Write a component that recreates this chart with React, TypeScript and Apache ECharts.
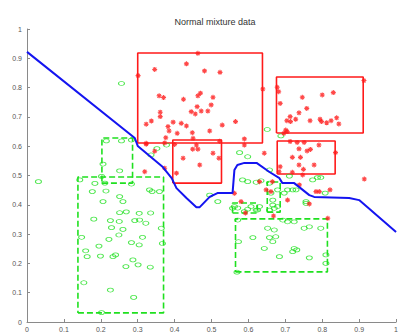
import React, { useEffect, useRef } from "react";
import * as echarts from "echarts";

const title = "Normal mixture data";
const xTicks = [0, 1, 0.1];
const yTicks = [0, 1, 0.1];

// Decision boundary (blue)
const boundary: [number, number][] = [
  [0, 0.922], [0.292, 0.628], [0.3, 0.601], [0.368, 0.529], [0.392, 0.491],
  [0.405, 0.457], [0.432, 0.423], [0.459, 0.392], [0.468, 0.392], [0.495, 0.427],
  [0.516, 0.44], [0.557, 0.44], [0.562, 0.519], [0.57, 0.536], [0.589, 0.543],
  [0.622, 0.543], [0.657, 0.512], [0.684, 0.491], [0.692, 0.474], [0.724, 0.474],
  [0.765, 0.433], [0.778, 0.427], [0.873, 0.423], [0.9, 0.416], [1.0, 0.307],
];

// Red class points (*)
const redPoints: [number, number][] = [
  [0.463, 0.917], [0.301, 0.841], [0.346, 0.862], [0.432, 0.881], [0.481, 0.857],
  [0.523, 0.852], [0.639, 0.795], [0.358, 0.772], [0.37, 0.766], [0.424, 0.76],
  [0.463, 0.772], [0.47, 0.781], [0.504, 0.767], [0.499, 0.741], [0.461, 0.735],
  [0.445, 0.718], [0.456, 0.71], [0.472, 0.72], [0.49, 0.72], [0.361, 0.716],
  [0.361, 0.701], [0.337, 0.686], [0.323, 0.675], [0.396, 0.682], [0.418, 0.678],
  [0.432, 0.669], [0.382, 0.667], [0.385, 0.652], [0.407, 0.644], [0.448, 0.646],
  [0.495, 0.652], [0.529, 0.672], [0.565, 0.684], [0.589, 0.625], [0.376, 0.629],
  [0.45, 0.627], [0.323, 0.61], [0.4, 0.606], [0.459, 0.604], [0.589, 0.604],
  [0.423, 0.559], [0.468, 0.536], [0.504, 0.576], [0.52, 0.559], [0.405, 0.508],
  [0.449, 0.59], [0.463, 0.59], [0.522, 0.617], [0.373, 0.525], [0.562, 0.439],
  [0.58, 0.411], [0.643, 0.576], [0.648, 0.451], [0.661, 0.445], [0.63, 0.479],
  [0.668, 0.362], [0.319, 0.513], [0.346, 0.583], [0.323, 0.607], [0.373, 0.611],
  [0.592, 0.372], [0.665, 0.479], [0.706, 0.416], [0.738, 0.468], [0.765, 0.403],
  [0.783, 0.445], [0.792, 0.445], [0.821, 0.451], [0.914, 0.488], [0.815, 0.354],
  [0.747, 0.502],
  [0.678, 0.801], [0.682, 0.786], [0.686, 0.746], [0.913, 0.824], [0.8, 0.775],
  [0.83, 0.783], [0.746, 0.767], [0.758, 0.729], [0.737, 0.714], [0.728, 0.692],
  [0.713, 0.701], [0.704, 0.687], [0.714, 0.684], [0.767, 0.687], [0.794, 0.692],
  [0.798, 0.684], [0.812, 0.68], [0.824, 0.687], [0.839, 0.697], [0.845, 0.676],
  [0.701, 0.655], [0.705, 0.65], [0.696, 0.644],
  [0.713, 0.616], [0.732, 0.613], [0.751, 0.613], [0.737, 0.591], [0.759, 0.584],
  [0.768, 0.589], [0.791, 0.604], [0.719, 0.562], [0.741, 0.562], [0.836, 0.578],
  [0.737, 0.536], [0.778, 0.536], [0.686, 0.53], [0.749, 0.521], [0.683, 0.513],
  [0.719, 0.511],
];

// Green class points (o)
const greenPoints: [number, number][] = [
  [0.256, 0.814], [0.031, 0.479],
  [0.215, 0.618], [0.256, 0.618], [0.283, 0.621], [0.206, 0.539], [0.251, 0.516],
  [0.202, 0.497], [0.283, 0.471], [0.211, 0.474],
  [0.143, 0.485], [0.184, 0.473], [0.214, 0.447], [0.177, 0.445], [0.251, 0.428],
  [0.26, 0.411], [0.206, 0.411], [0.332, 0.451], [0.339, 0.445], [0.359, 0.445],
  [0.251, 0.373], [0.269, 0.376], [0.304, 0.371], [0.181, 0.351], [0.226, 0.346],
  [0.25, 0.343], [0.292, 0.346], [0.305, 0.348], [0.322, 0.337], [0.229, 0.322],
  [0.26, 0.316], [0.364, 0.32], [0.148, 0.289], [0.249, 0.297], [0.222, 0.282],
  [0.313, 0.289], [0.283, 0.271], [0.367, 0.268], [0.304, 0.263], [0.195, 0.259],
  [0.159, 0.243], [0.163, 0.223], [0.199, 0.225], [0.233, 0.223], [0.24, 0.229],
  [0.287, 0.212], [0.301, 0.195], [0.268, 0.189], [0.334, 0.187], [0.154, 0.134],
  [0.226, 0.109], [0.289, 0.084], [0.202, 0.032], [0.335, 0.372],
  [0.336, 0.57], [0.378, 0.604], [0.352, 0.592],
  [0.576, 0.578], [0.598, 0.564], [0.495, 0.433], [0.517, 0.411], [0.584, 0.485],
  [0.598, 0.479], [0.621, 0.477], [0.634, 0.482], [0.657, 0.474], [0.661, 0.44],
  [0.666, 0.416], [0.562, 0.394], [0.571, 0.389], [0.589, 0.377], [0.607, 0.394],
  [0.621, 0.382], [0.63, 0.394], [0.657, 0.382], [0.666, 0.399], [0.679, 0.451],
  [0.697, 0.44], [0.706, 0.451], [0.72, 0.451], [0.729, 0.451], [0.756, 0.411],
  [0.774, 0.485], [0.787, 0.493], [0.796, 0.493], [0.808, 0.44], [0.651, 0.657],
  [0.688, 0.635], [0.657, 0.519], [0.711, 0.498],
  [0.571, 0.348], [0.693, 0.348], [0.706, 0.342], [0.724, 0.342], [0.652, 0.32],
  [0.67, 0.314], [0.751, 0.32], [0.765, 0.325], [0.796, 0.32], [0.612, 0.288],
  [0.657, 0.288], [0.674, 0.291], [0.573, 0.274], [0.666, 0.274], [0.643, 0.251],
  [0.724, 0.251], [0.731, 0.246], [0.72, 0.24], [0.684, 0.223], [0.765, 0.219],
  [0.81, 0.229], [0.81, 0.2], [0.569, 0.17],
  [0.557, 0.388], [0.598, 0.385], [0.625, 0.382], [0.67, 0.388], [0.679, 0.394],
  [0.756, 0.405],
];

// Rectangles: [xMin, xMax, yMin, yMax]
const redBoxes: [number, number, number, number][] = [
  [0.3, 0.638, 0.611, 0.918],
  [0.395, 0.527, 0.474, 0.621],
  [0.676, 0.911, 0.645, 0.836],
  [0.678, 0.835, 0.505, 0.618],
];
const greenBoxes: [number, number, number, number][] = [
  [0.138, 0.37, 0.031, 0.495],
  [0.203, 0.286, 0.474, 0.628],
  [0.565, 0.814, 0.171, 0.352],
  [0.557, 0.624, 0.372, 0.406],
  [0.651, 0.686, 0.375, 0.478],
];

const RED = "#ff1a1a";
const GREEN = "#1fe01f";
const BLUE = "#1414f0";

function boxPath(b: [number, number, number, number]) {
  const [x1, x2, y1, y2] = b;
  return [[x1, y1], [x2, y1], [x2, y2], [x1, y2], [x1, y1]];
}

export default function App() {
  const ref = useRef<HTMLDivElement>(null);
  useEffect(() => {
    if (!ref.current) return;
    const chart = echarts.init(ref.current, null, { renderer: "svg" });
    const axisCommon = {
      type: "value" as const,
      min: xTicks[0],
      max: xTicks[1],
      interval: xTicks[2],
      axisLine: { show: true, lineStyle: { color: "#8a8a8a", width: 1 } },
      axisTick: { show: true, inside: true, length: 3, lineStyle: { color: "#8a8a8a" } },
      splitLine: { show: false },
      axisLabel: { fontSize: 7, color: "#555", fontFamily: "Liberation Sans" },
    };
    const series: any[] = [];
    redBoxes.forEach((b) =>
      series.push({
        type: "line",
        data: boxPath(b),
        showSymbol: false,
        lineStyle: { color: RED, width: 1.6 },
        z: 2,
      })
    );
    greenBoxes.forEach((b) =>
      series.push({
        type: "line",
        data: boxPath(b),
        showSymbol: false,
        lineStyle: { color: GREEN, width: 1.6, type: [6, 3] },
        z: 2,
      })
    );
    series.push({
      type: "scatter",
      data: greenPoints,
      symbol: "circle",
      symbolSize: [6, 4],
      itemStyle: { color: "rgba(0,0,0,0)", borderColor: GREEN, borderWidth: 0.9 },
      z: 3,
    });
    series.push({
      type: "scatter",
      data: redPoints,
      symbol: "path://M5,0L5,10M0,5L10,5M1.5,1.5L8.5,8.5M1.5,8.5L8.5,1.5",
      symbolSize: 5,
      itemStyle: { color: RED, borderColor: RED, borderWidth: 1.1 },
      z: 4,
    });
    series.push({
      type: "line",
      data: boundary,
      showSymbol: false,
      lineStyle: { color: BLUE, width: 2 },
      z: 5,
    });
    chart.setOption({
      animation: false,
      backgroundColor: "#ffffff",
      title: {
        text: title,
        left: 210,
        textAlign: "center",
        top: 12,
        textStyle: { fontSize: 9, fontWeight: "normal", color: "#333", fontFamily: "Liberation Sans" },
      },
      grid: { left: 27, right: 4, top: 29, bottom: 12, containLabel: false },
      xAxis: { ...axisCommon, axisLabel: { ...axisCommon.axisLabel, margin: 4 } },
      yAxis: {
        ...axisCommon,
        min: yTicks[0],
        max: yTicks[1],
        interval: yTicks[2],
        axisLabel: { ...axisCommon.axisLabel, margin: 5 },
      },
      series,
    });
    return () => chart.dispose();
  }, []);
  return (
    <div
      ref={ref}
      style={{ position: "fixed", left: 0, top: 0, width: 401, height: 334 }}
    />
  );
}
